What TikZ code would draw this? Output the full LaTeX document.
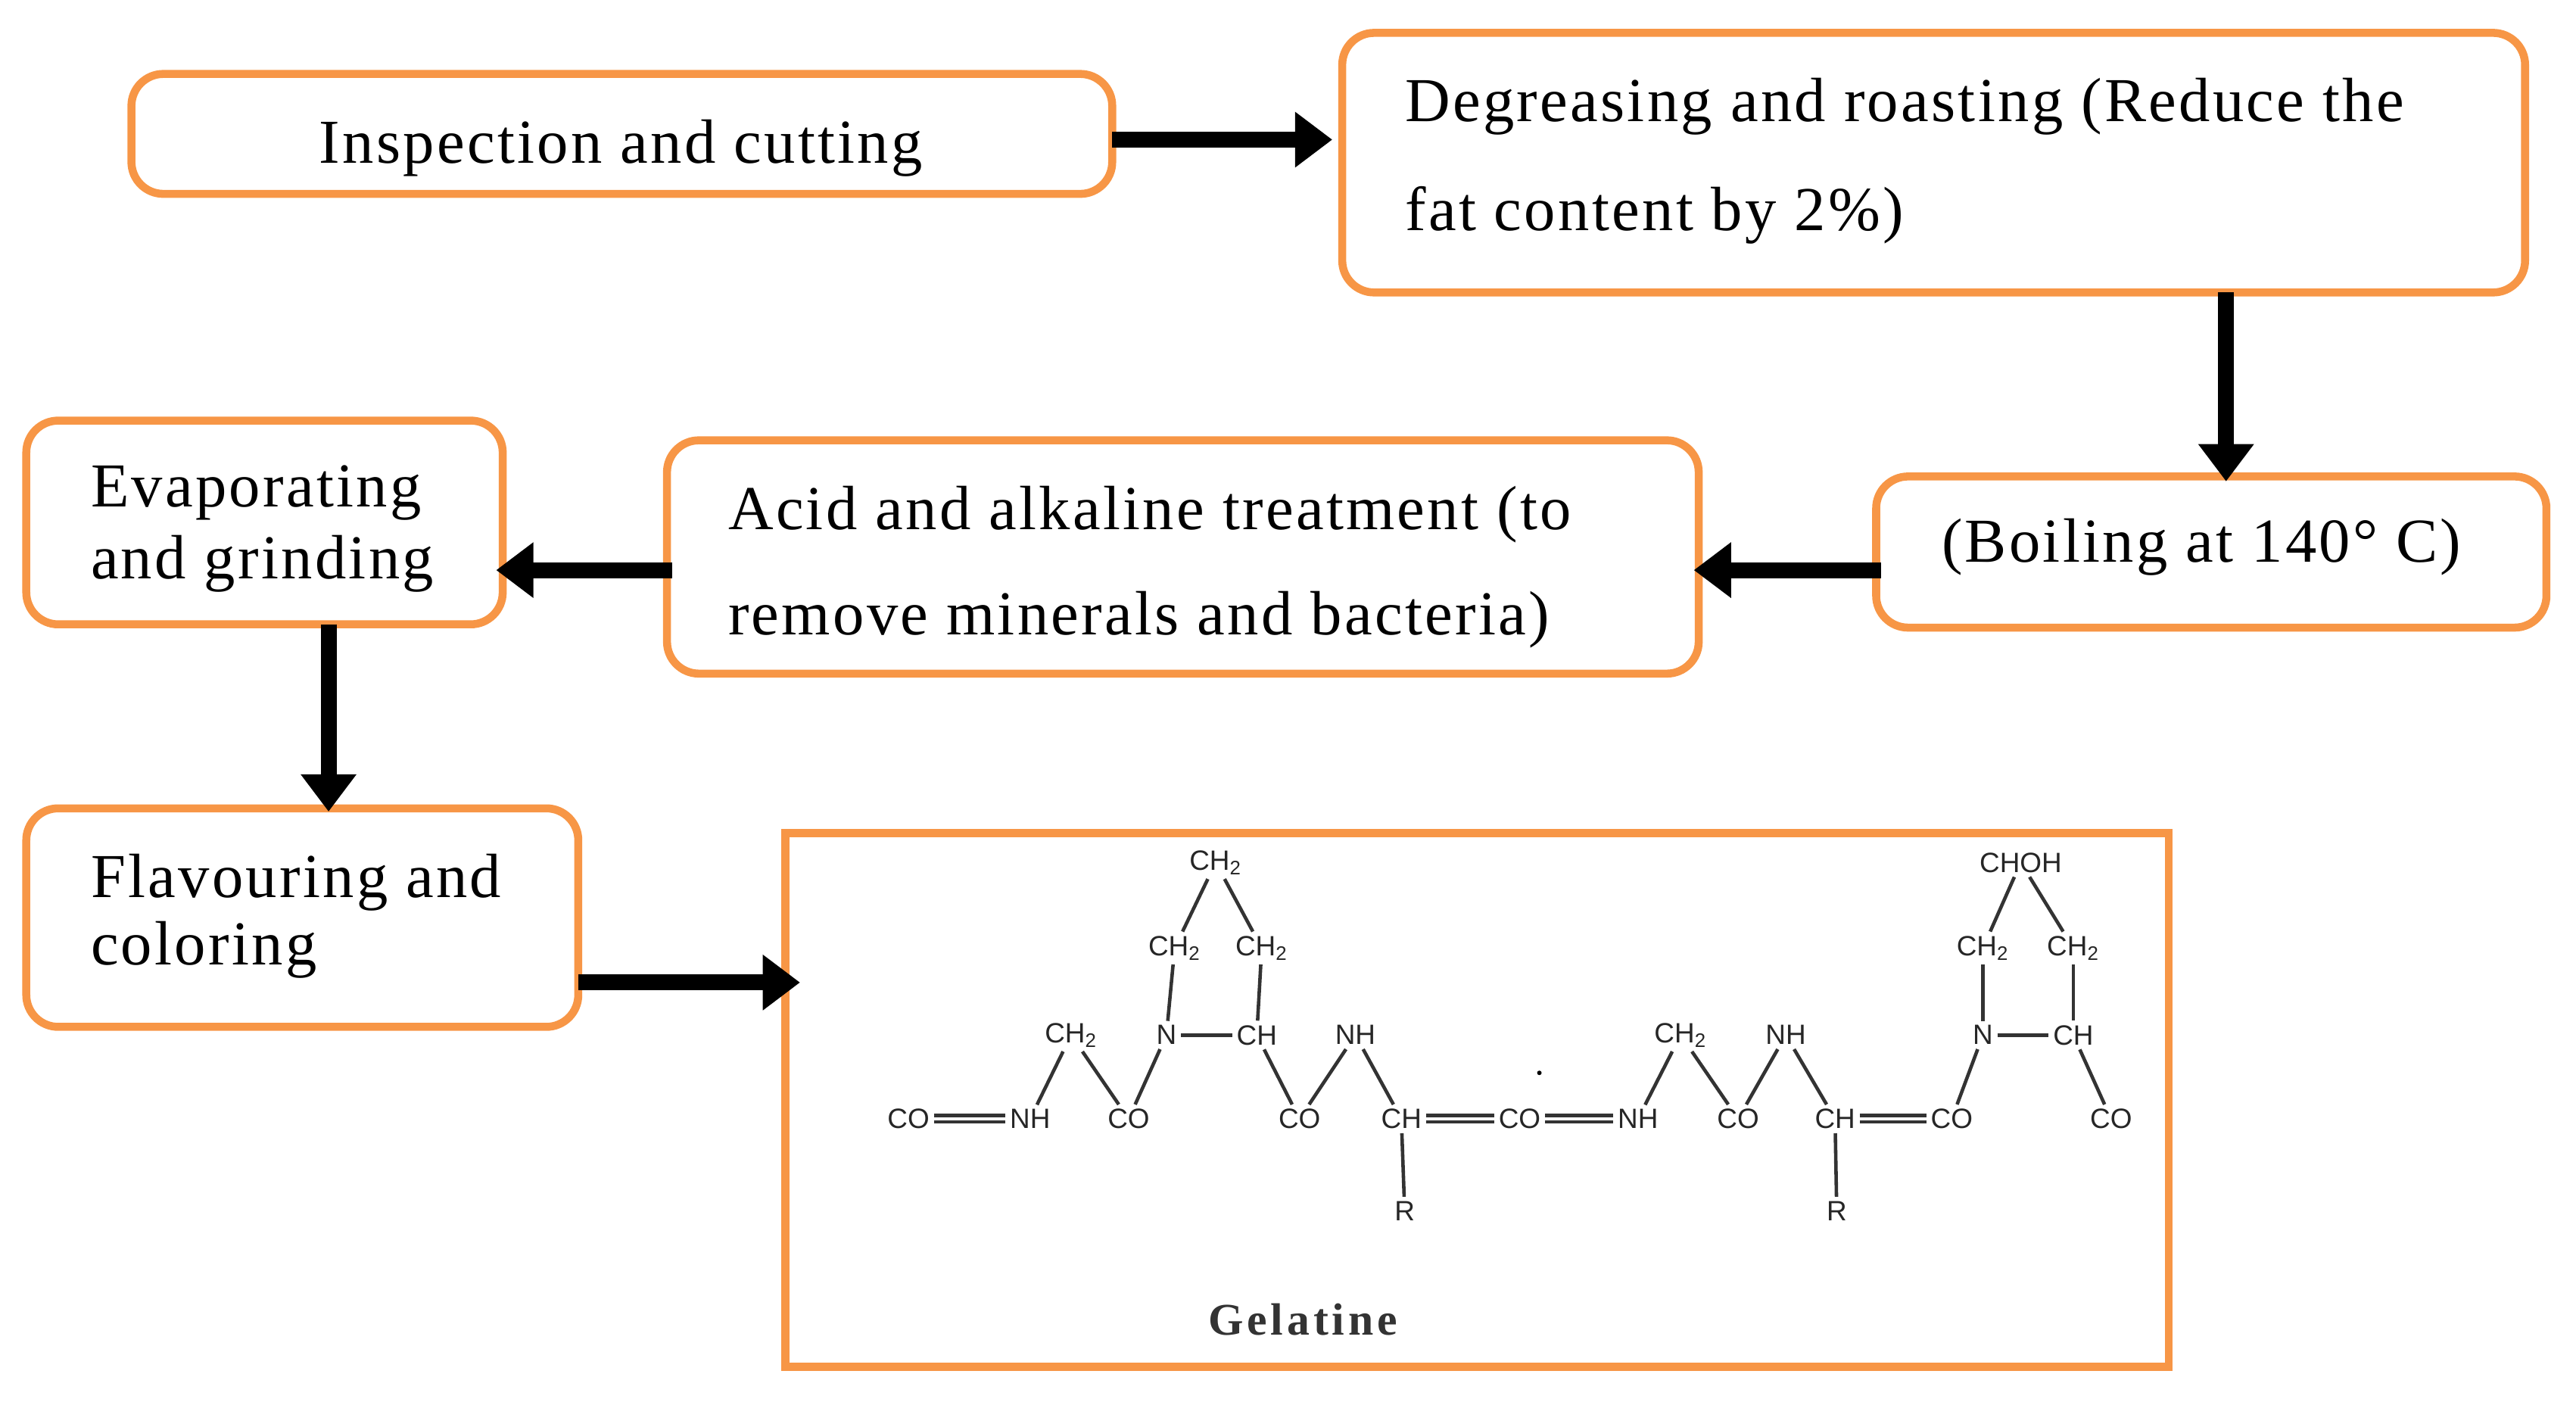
\documentclass[tikz,border=0pt]{standalone}
\usepackage{fontspec}
\setmainfont{Liberation Serif}
\setsansfont{Liberation Sans}
\usetikzlibrary{arrows.meta}
\definecolor{orng}{HTML}{F79646}
\begin{document}
\begin{tikzpicture}[x=0.0217cm,y=-0.0217cm,
  box/.style={draw=orng,line width=3pt,rounded corners=12pt},
  txt/.style={font=\fontsize{23.5}{28}\selectfont\addfontfeature{LetterSpace=4},anchor=west,inner sep=0pt},
  arr/.style={line width=6pt,-{Triangle[length=14pt,width=20pt]}},
  atom/.style={font=\sffamily\fontsize{10.5}{12}\selectfont,inner sep=1.5pt,text=black!85},
  bd/.style={line width=1.3pt,black!80},
  dbd/.style={line width=1.2pt,black!80,double distance=1.3pt}]
\useasboundingbox (0,0) rectangle (1568,853);
% boxes
\draw[box] (80,45) rectangle (677,118);
\node[txt,anchor=center] (t1) at (378,90) {Inspection and cutting};
\draw[box] (817,20) rectangle (1537,178);
\node[txt] (t2a) at (855,65) {Degreasing and roasting (Reduce the};
\node[txt] (t2b) at (855,131) {fat content by 2\%)};
\draw[box] (1142,290) rectangle (1550,382);
\node[txt,anchor=center] (t3) at (1340,333) {(Boiling at 140° C)};
\draw[box] (406,268) rectangle (1034,410);
\node[txt] (t4a) at (443,313) {Acid and alkaline treatment (to};
\node[txt] (t4b) at (443,377) {remove minerals and bacteria)};
\draw[box] (16,256) rectangle (306,380);
\node[txt] (t5a) at (55,300) {Evaporating};
\node[txt] (t5b) at (55,343) {and grinding};
\draw[box] (16,492) rectangle (352,625);
\node[txt] (t6a) at (55,537) {Flavouring and};
\node[txt] (t6b) at (55,578) {coloring};
\draw[draw=orng,line width=3pt] (478,507) rectangle (1320,832);
\node[font=\fontsize{17}{20}\selectfont\bfseries\addfontfeature{LetterSpace=8},text=black!80] (gel) at (793,803) {Gelatine};
% arrow endpoints
\coordinate (a1s) at (677,85); \coordinate (a1e) at (811,85);
\coordinate (a2s) at (1355,178); \coordinate (a2e) at (1355,293);
\coordinate (a3s) at (1145,347); \coordinate (a3e) at (1031,347);
\coordinate (a4s) at (409,347); \coordinate (a4e) at (302,347);
\coordinate (a5s) at (200,380); \coordinate (a5e) at (200,494);
\coordinate (a6s) at (352,598); \coordinate (a6e) at (487,598);
\foreach \i in {1,...,6} {\draw[arr] (a\i s) -- (a\i e);}
% chemistry
\node[atom] (c1) at (740,525) {CH\textsubscript{2}};
\node[atom] (c2) at (715,577) {CH\textsubscript{2}};
\node[atom] (c3) at (768,577) {CH\textsubscript{2}};
\node[atom] (c4) at (652,630) {CH\textsubscript{2}};
\node[atom] (n1) at (710,630) {N};
\node[atom] (h1) at (765,630) {CH};
\node[atom] (nh1) at (825,630) {NH};
\node[atom] (o1) at (553,681) {CO};
\node[atom] (nh2) at (627,681) {NH};
\node[atom] (o2) at (687,681) {CO};
\node[atom] (o3) at (791,681) {CO};
\node[atom] (h2) at (853,681) {CH};
\node[atom] (o4) at (925,681) {CO};
\node[atom] (nh3) at (997,681) {NH};
\node[atom] (o5) at (1058,681) {CO};
\node[atom] (h3) at (1117,681) {CH};
\node[atom] (o6) at (1188,681) {CO};
\node[atom] (o7) at (1285,681) {CO};
\node[atom] (r1) at (855,737) {R};
\node[atom] (r2) at (1118,737) {R};
\node[atom] (c5) at (1023,630) {CH\textsubscript{2}};
\node[atom] (nh4) at (1087,630) {NH};
\node[atom] (n2) at (1207,630) {N};
\node[atom] (h4) at (1262,630) {CH};
\node[atom] (c6) at (1207,577) {CH\textsubscript{2}};
\node[atom] (c7) at (1262,577) {CH\textsubscript{2}};
\node[atom] (c8) at (1230,525) {CHOH};
\node[circle,fill=black,inner sep=0.6pt] (dot) at (937,653) {};
\draw[dbd] (o1) -- (nh2);
\draw[dbd] (h2) -- (o4);
\draw[dbd] (o4) -- (nh3);
\draw[dbd] (h3) -- (o6);
\foreach \a/\b in {c1/c2,c1/c3,c2/n1,c3/h1,n1/h1,c4/nh2,c4/o2,n1/o2,h1/o3,nh1/o3,nh1/h2,h2/r1,
  c5/nh3,c5/o5,nh4/o5,nh4/h3,h3/r2,n2/o6,h4/o7,c8/c6,c8/c7,c6/n2,c7/h4,n2/h4}
  {\draw[bd] (\a) -- (\b);}
\end{tikzpicture}
\end{document}
